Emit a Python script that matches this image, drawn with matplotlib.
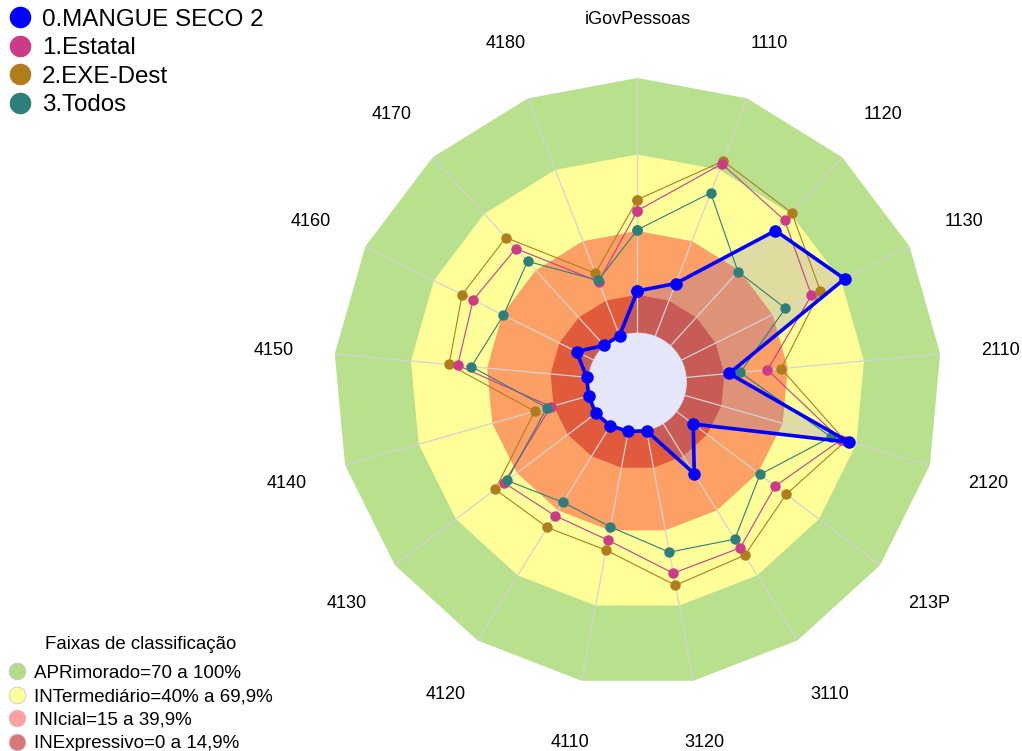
"""
radar iGovPessoas - faixas de classificacao e comparacao com grupos
"""
import numpy as np
from matplotlib import pyplot as plt
from matplotlib.lines import Line2D
from matplotlib.transforms import ScaledTranslation

plt.rcParams['font.family'] = ['Liberation Sans', 'DejaVu Sans']

categorias = ['iGovPessoas', '1110', '1120', '1130', '2110', '2120', '213P', '3110',
              '3120', '4110', '4120', '4130', '4140', '4150', '4160', '4170', '4180']

# valores (%)
mangue_seco = [16.5, 22.2, 61.1, 71.5, 16.9, 67.1, 8.2, 23.1, 0.3, 0.5, 1.0, 1.3, 0.7, 0.8, 7.5, 0.2, 0.3]
estatal = [48.0, 72.5, 66.5, 57.0, 32.0, 63.8, 48.5, 57.3, 57.1, 43.9, 42.4, 46.4, 16.1, 51.6, 52.8, 51.6, 23.0]
exe_dest = [52.3, 73.7, 70.6, 60.9, 37.4, 65.6, 53.9, 60.7, 61.9, 47.9, 47.9, 50.7, 22.7, 55.0, 57.6, 57.4, 26.5]
todos = [40.5, 60.3, 39.3, 45.6, 21.3, 59.7, 41.0, 53.3, 48.7, 38.6, 36.3, 44.9, 17.7, 46.2, 39.5, 44.8, 23.5]

series_nomes = ['0.MANGUE SECO 2', '1.Estatal', '2.EXE-Dest', '3.Todos']
series_cores = ['#0000ff', '#cc3a88', '#b07d1c', '#2e7f7b']

faixas_lim = [100, 70, 40, 15]
faixas_cor = ['#b9e08d', '#ffff99', '#fda065', '#e05a3b']
faixas_nomes = ['APRimorado=70 a 100%', 'INTermediário=40% a 69,9%',
                'INIcial=15 a 39,9%', 'INExpressivo=0 a 14,9%']
faixas_leg_cor = ['#b3dd88', '#ffff9e', '#ff9f9f', '#d97878']


def fechar(v):
    return np.append(v, v[0])


fig = plt.figure(figsize=(10.22, 7.51), dpi=100)
ax = fig.add_axes([0.3263, 0.0866, 0.5949, 0.8096], projection='polar')
ax.set_theta_zero_location('N')
ax.set_theta_direction(-1)

ang = np.linspace(0, 2 * np.pi, len(categorias), endpoint=False)
ang_f = fechar(ang)

# faixas de fundo
for lim, cor in zip(faixas_lim, faixas_cor):
    ax.fill(ang_f, np.full(len(ang_f), lim), color=cor, lw=0, zorder=1)

# area da serie principal
ax.fill(ang_f, fechar(mangue_seco), facecolor=(0.45, 0.38, 0.72, 0.22), lw=0, zorder=1.2)

# furo central
t = np.linspace(0, 2 * np.pi, 181)
ax.fill(t, np.zeros(len(t)), facecolor='#e6e6fa', edgecolor='#d8d8e8', lw=0.5,
        zorder=1.8, clip_on=False)

# grupos de comparacao
for vals, cor in zip([exe_dest, estatal, todos], [series_cores[2], series_cores[1], series_cores[3]]):
    ax.plot(ang_f, fechar(vals), color=cor, lw=0.8, marker='o', ms=6.5,
            clip_on=False, zorder=3)
ax.plot(ang_f, fechar(mangue_seco), color=series_cores[0], lw=2.6, marker='o', ms=8,
        clip_on=False, zorder=4)

ax.set_ylim(0, 100)
ax.set_rorigin(-19.2)
ax.set_yticks([])
ax.set_xticks(ang, labels=[''] * len(ang))
ax.xaxis.grid(True, color='#d3d3d3', lw=0.9)
ax.tick_params(axis='x', length=0)
for s in ax.spines.values():
    s.set_visible(False)
    s.set_edgecolor('none')
    s.set_linewidth(0)
ax.patch.set_facecolor('none')

# rotulos dos eixos
desl = ax.transData + ScaledTranslation(0, -0.02, fig.dpi_scale_trans)
for a, nome in zip(ang, categorias):
    ax.text(a, 123.9, nome, ha='center', va='center', fontsize=13, transform=desl)

# legendas
h1 = [Line2D([], [], ls='', marker='o', ms=14.5, color=c) for c in series_cores]
fig.legend(h1, series_nomes, loc='upper left', bbox_to_anchor=(0.001, 0.998), frameon=False,
           fontsize=17.4, handlelength=1.0, handletextpad=0.4, labelspacing=0.27,
           borderaxespad=0, borderpad=0.3)

h2 = [Line2D([], [], ls='', marker='o', ms=12, markerfacecolor=c,
             markeredgecolor='#c8c8c8', markeredgewidth=0.6) for c in faixas_leg_cor]
leg2 = fig.legend(h2, faixas_nomes, title='Faixas de classificação', loc='upper left',
                  bbox_to_anchor=(0.002, 0.16), frameon=False, fontsize=13.5,
                  title_fontsize=13.4, handlelength=1.0, handletextpad=0.4,
                  labelspacing=0.34, borderaxespad=0, borderpad=0.3)
leg2._legend_box.sep = 8

plt.savefig('out.png', dpi=100)
